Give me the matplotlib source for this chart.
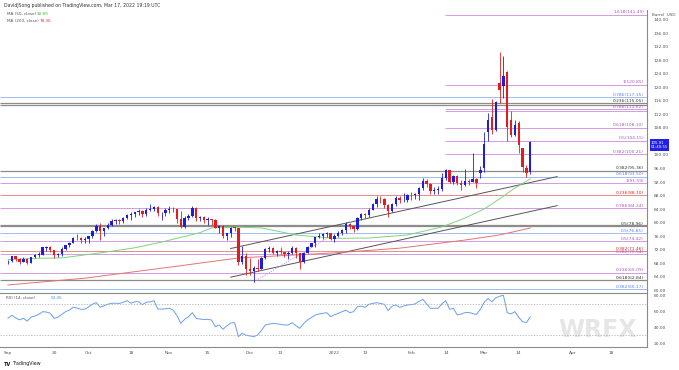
import numpy as np
import pandas as pd
import matplotlib
matplotlib.use('Agg')
import matplotlib.pyplot as plt
import matplotlib.transforms as mtransforms

##################################################################################
# data (daily crude oil candles, Sep 1 2021 - Mar 17 2022)
##################################################################################

opens = [68.5, 68.6, 70.0, 69.3, 68.4, 69.3, 68.1, 69.7, 70.4, 70.5,
         72.5, 72.6, 72.0, 70.3, 70.6, 72.2, 73.3, 74.0, 75.5, 75.3,
         74.8, 75.0, 75.9, 77.6, 78.9, 77.4, 78.3, 79.4, 80.5, 80.6,
         80.4, 81.3, 82.3, 82.4, 83.0, 83.4, 82.5, 83.8, 83.9, 84.7,
         82.7, 82.8, 83.6, 84.1, 83.9, 80.9, 78.8, 81.3, 81.9, 84.2,
         81.3, 81.6, 80.8, 80.9, 80.8, 78.4, 79.0, 76.1, 76.8, 78.5,
         78.4, 68.2, 70.0, 66.2, 65.6, 66.5, 66.3, 69.5, 72.1, 72.4,
         70.9, 71.7, 71.3, 70.7, 70.9, 72.4, 70.9, 68.2, 71.1, 72.8,
         73.8, 75.6, 76.0, 76.6, 77.0, 75.2, 76.1, 77.0, 77.9, 79.5,
         78.9, 78.2, 81.2, 82.6, 82.1, 83.8, 85.4, 87.0, 86.9, 85.1,
         83.3, 85.6, 87.4, 86.6, 86.8, 88.2, 88.1, 88.3, 90.3, 92.3,
         91.3, 89.4, 89.7, 89.9, 93.1, 95.5, 92.1, 93.7, 91.8, 91.1,
         92.4, 92.1, 92.8, 94.6, 96.1, 106.8, 111.2, 107.5, 121.3, 120.4,
         124.5, 110.3, 106.0, 109.5, 102.0, 96.1, 95.0]
highs = [69.0, 70.0, 70.1, 69.6, 69.8, 69.5, 69.9, 70.8, 71.2, 72.8,
         73.1, 72.9, 72.0, 71.0, 72.6, 73.4, 74.1, 75.6, 76.7, 75.8,
         75.6, 76.0, 77.8, 79.5, 79.8, 78.4, 79.8, 81.0, 81.0, 81.1,
         81.6, 82.6, 83.0, 83.2, 83.9, 83.8, 84.2, 85.4, 85.0, 84.9,
         83.0, 84.2, 84.9, 84.5, 84.0, 83.5, 81.8, 82.4, 84.9, 84.5,
         82.0, 81.9, 81.5, 81.1, 80.9, 79.4, 79.2, 77.0, 78.6, 78.8,
         78.5, 73.0, 71.0, 69.5, 67.0, 69.1, 69.9, 72.4, 72.9, 72.8,
         71.9, 72.6, 71.4, 71.6, 72.9, 72.6, 70.9, 71.4, 72.9, 73.9,
         75.7, 76.9, 76.9, 77.1, 77.0, 76.5, 77.6, 78.2, 80.2, 80.0,
         79.0, 81.5, 82.9, 82.8, 84.2, 85.7, 87.9, 87.9, 87.2, 85.6,
         85.9, 88.0, 88.0, 88.8, 88.3, 88.9, 88.6, 90.4, 93.2, 93.0,
         91.6, 90.5, 90.9, 94.7, 95.8, 95.7, 94.0, 94.0, 92.6, 96.0,
         93.0, 100.5, 93.3, 96.6, 106.8, 112.5, 116.6, 116.0, 130.5, 129.4,
         125.0, 113.0, 110.3, 110.0, 102.2, 97.0, 104.0]
lows = [67.6, 68.2, 68.7, 67.6, 68.2, 67.6, 68.0, 69.4, 69.9, 70.3,
        71.7, 71.4, 69.6, 69.8, 70.2, 72.0, 72.7, 73.9, 74.9, 73.8,
        73.9, 74.0, 75.3, 77.3, 74.9, 76.1, 78.2, 78.9, 79.5, 79.6,
        79.8, 81.0, 80.8, 81.6, 82.2, 81.5, 82.0, 83.3, 83.3, 81.8,
        80.6, 82.0, 82.7, 83.1, 80.0, 78.3, 78.5, 80.7, 81.5, 80.3,
        80.3, 79.9, 79.4, 79.4, 78.3, 76.9, 75.3, 74.9, 75.8, 77.5,
        67.4, 67.8, 64.4, 64.4, 62.4, 65.7, 66.1, 69.3, 71.4, 70.6,
        70.0, 70.8, 69.8, 69.3, 70.7, 69.6, 66.1, 68.1, 70.9, 72.7,
        72.6, 75.3, 75.2, 75.7, 74.9, 74.3, 75.7, 76.4, 76.8, 78.1,
        77.3, 77.9, 80.7, 81.3, 81.5, 83.7, 84.7, 85.9, 84.4, 81.7,
        83.0, 84.9, 85.9, 86.0, 86.1, 86.6, 87.1, 86.6, 89.6, 90.6,
        88.4, 88.5, 88.3, 89.3, 92.6, 91.8, 91.3, 91.2, 89.6, 90.9,
        91.2, 92.0, 90.1, 93.2, 95.0, 104.0, 106.3, 107.0, 115.4, 117.0,
        104.0, 105.3, 105.5, 100.6, 95.0, 93.5, 94.5]
closes = [68.6, 70.0, 69.3, 68.4, 69.3, 68.1, 69.7, 70.5, 70.5, 72.6,
          72.6, 72.0, 70.3, 70.6, 72.2, 73.3, 74.0, 75.5, 75.3, 74.8,
          75.0, 75.9, 77.6, 78.9, 77.4, 78.3, 79.4, 80.5, 80.6, 80.4,
          81.3, 82.3, 82.4, 83.0, 83.4, 82.5, 83.8, 83.9, 84.7, 82.7,
          82.8, 83.6, 84.1, 83.9, 80.9, 78.8, 81.3, 81.9, 84.2, 81.3,
          81.6, 80.8, 80.9, 80.8, 78.4, 79.0, 76.1, 76.8, 78.5, 78.4,
          68.2, 70.0, 66.2, 65.6, 66.5, 66.3, 69.5, 72.1, 72.4, 70.9,
          71.7, 71.3, 70.7, 70.9, 72.4, 70.9, 68.2, 71.1, 72.8, 73.8,
          75.6, 76.0, 76.6, 77.0, 75.2, 76.1, 77.0, 77.9, 79.5, 78.9,
          78.2, 81.2, 82.6, 82.1, 83.8, 85.4, 87.0, 86.9, 85.1, 83.3,
          85.6, 87.4, 86.6, 86.8, 88.2, 88.1, 88.3, 90.3, 92.3, 91.3,
          89.4, 89.7, 89.9, 93.1, 95.5, 92.1, 93.7, 91.8, 91.1, 92.4,
          92.1, 92.8, 91.6, 95.7, 103.3, 110.4, 107.5, 115.7, 119.4, 123.4,
          108.4, 106.0, 108.9, 103.0, 96.4, 94.8, 103.8]

rsi = [51.5, 55.5, 52.0, 49.5, 51.5, 48.0, 53.0, 54.5, 56.5, 60.0,
       59.5, 58.0, 51.5, 53.0, 56.5, 60.0, 62.0, 65.6, 64.5, 63.0,
       63.2, 66.0, 69.5, 71.5, 65.6, 67.5, 69.5, 70.6, 70.8, 70.5,
       72.0, 74.0, 70.8, 72.5, 72.7, 68.9, 72.0, 72.5, 74.0, 63.5,
       63.2, 63.6, 64.3, 62.0, 55.0, 45.1, 50.2, 53.5, 58.7, 51.5,
       50.5, 50.0, 50.2, 49.3, 40.8, 43.0, 37.5, 42.0, 45.5, 46.0,
       28.1, 32.4, 30.0, 29.0, 28.2, 30.2, 36.0, 43.0, 44.0, 45.1,
       44.5, 43.8, 43.0, 43.0, 46.0, 42.0, 38.7, 45.0, 49.3, 52.5,
       55.7, 57.0, 57.9, 58.7, 53.6, 56.0, 57.9, 60.0, 62.0, 58.7,
       60.0, 66.4, 67.0, 65.6, 69.4, 70.5, 71.5, 70.5, 69.4, 61.3,
       67.0, 68.5, 65.6, 67.0, 68.5, 69.0, 69.8, 73.0, 75.7, 70.0,
       64.3, 64.3, 64.3, 70.0, 74.0, 63.0, 64.3, 55.7, 57.0, 58.7,
       59.0, 57.5, 56.5, 63.0, 72.0, 76.6, 72.7, 77.5, 79.6, 80.9,
       58.7, 57.0, 60.0, 52.8, 47.3, 46.0, 53.45]

# moving averages, read as vertices of the drawn lines (bar number, value)
ma50_bars = [0, 7, 14, 24, 33, 40, 50, 53, 60, 66, 75, 85, 94, 104, 113, 119, 124, 128, 132, 136]
ma50_vals = [69.0, 69.4, 69.5, 71.0, 72.5, 74.2, 77.0, 78.4, 78.6, 78.4, 76.3, 75.3, 75.4, 76.3,
             78.7, 81.3, 84.0, 87.0, 90.2, 92.89]
ma200_bars = [0, 20, 45, 60, 85, 102, 119, 128, 136]
ma200_vals = [61.5, 63.5, 67.2, 69.5, 71.0, 72.4, 74.8, 76.3, 78.36]

# fibonacci levels: price, label, colour group, drawn from the left edge or only recent
fib_prices = [141.49, 120.85, 117.15, 115.40, 114.80, 113.62, 113.00, 108.10, 104.15, 100.21,
              95.36, 93.50, 91.59, 88.10, 84.24, 79.30, 78.96, 76.85, 74.42, 71.46,
              70.54, 65.09, 62.84, 60.17]
fib_labels = ['1.618(141.49)', '1(120.85)', '0.786(117.15)', '0.236(115.05)', '', '0.786(113.62)', '',
              '0.618(108.10)', '0.5(104.15)', '0.382(100.21)',
              '0.382(95.36)', '0.618(93.50)', '1(91.59)', '0.236(88.10)', '0.786(84.24)', '',
              '0.5(78.96)', '0.5(76.85)', '0.5(74.42)', '0.382(71.46)', '0.382(70.54)',
              '0.236(65.09)', '0.618(62.84)', '0.382(60.17)']
fib_kinds = ['m', 'm', 'b', 'g', 'g', 'm', 'm', 'm', 'm', 'm',
             'g', 'b', 'm', 'r', 'm', 'g', 'g', 'b', 'm', 'r',
             'm', 'm', 'g', 'b']
fib_recent = [True, True, False, False, False, True, True, True, True, True,
              False, False, False, False, False, False, False, False, False, False,
              False, False, False, False]

# ascending channel (date, price)
channel_upper = [('2021-11-23', 72.3), ('2022-03-28', 93.6)]
channel_lower = [('2021-11-23', 63.8), ('2022-03-28', 85.0)]
dotted_support = [('2021-12-02', 62.4), ('2021-12-31', 76.0)]

tick_dates = ['2021-09-01', '2021-09-20', '2021-10-01', '2021-10-18', '2021-11-01', '2021-11-15',
              '2021-12-01', '2021-12-13', '2022-01-03', '2022-01-13', '2022-02-01', '2022-02-14',
              '2022-03-01', '2022-03-14', '2022-04-01', '2022-04-18']
tick_labels = ['Sep', '20', 'Oct', '18', 'Nov', '15', 'Dec', '13', '2022', '13', 'Feb', '14',
               'Mar', '14', 'Apr', '18']

##################################################################################
# plot
##################################################################################

W, H = 679, 370
UP, DOWN = '#1d1de0', '#e31b1b'
kind_color = {'m': '#d39ce0', 'b': '#9fbcf2', 'g': '#8c8c8c', 'r': '#e88a8a'}
kind_text = {'m': '#a555c0', 'b': '#5a7fe0', 'g': '#333333', 'r': '#cc2a2a'}

holidays = pd.to_datetime(['2021-09-06', '2021-11-25', '2021-12-24', '2022-01-17', '2022-02-21', '2022-04-15'])
calendar = pd.bdate_range('2021-09-01', '2022-05-13')
calendar = calendar[~calendar.isin(holidays)]


def bar_of(d):
    return calendar.get_loc(pd.Timestamp(d))


def fx(px):
    return px / W


def fy(py):
    return 1 - py / H


fig = plt.figure(figsize=(W / 100, H / 100), dpi=100)
ax = fig.add_axes([0, fy(292), fx(647), (292 - 10) / H])
ax_rsi = fig.add_axes([0, fy(347), fx(647), (347 - 293) / H], sharex=ax)

x = np.arange(len(closes))
o, h, l, c = map(np.array, (opens, highs, lows, closes))
col = np.where(c >= o, UP, DOWN)

# fib / support lines
recent_start = bar_of('2022-02-14') - 0.2
xmin, xmax = -2.08, 166.4
for p, lab, k, rec in zip(fib_prices, fib_labels, fib_kinds, fib_recent):
    lw = 0.9 if k == 'g' else 0.7
    ax.hlines(p, recent_start if rec else xmin, xmax, color=kind_color[k], lw=lw, zorder=1)
    if lab:
        ax.text(xmax - 0.8, p + 0.15, lab, ha='right', va='bottom', fontsize=3.2,
                color=kind_text[k], zorder=6)

# channel + dotted support
for line in (channel_upper, channel_lower):
    ax.plot([bar_of(line[0][0]), bar_of(line[1][0])], [line[0][1], line[1][1]],
            color='#555555', lw=0.7, zorder=2)
ax.plot([bar_of(dotted_support[0][0]), bar_of(dotted_support[1][0])],
        [dotted_support[0][1], dotted_support[1][1]], color='#c58ad6', lw=0.6, ls=(0, (1.5, 1.5)), zorder=2)

# moving averages
ax.plot(ma50_bars, ma50_vals, color='#7bd67b', lw=0.7, zorder=3)
ax.plot(ma200_bars, ma200_vals, color='#e57373', lw=0.7, zorder=3)

# candles
ax.vlines(x, l, h, color=col, lw=0.6, zorder=4)
body = np.maximum(np.abs(c - o), 0.15)
ax.bar(x, body, bottom=np.minimum(o, c), width=0.62, color=col, zorder=5, linewidth=0)

ax.set_xlim(xmin, xmax)
ax.set_ylim(59.41, 142.96)
ax.yaxis.tick_right()
yt = [v for v in range(60, 141, 4) if v != 104]
ax.set_yticks(yt)
ax.set_yticklabels(['%.2f' % v for v in yt])
ax.tick_params(axis='y', length=0, labelsize=3.2, labelcolor='#555555', pad=5)
ax.tick_params(axis='x', length=0, labelbottom=False)
for s in ('left', 'top', 'bottom'):
    ax.spines[s].set_visible(False)
ax.spines['right'].set_color('#8a8a8a')
ax.spines['right'].set_linewidth(0.8)

# last price box
trans = mtransforms.blended_transform_factory(ax.transAxes, ax.transData)
ax.text(1.006, 103.0, '105.91\n01:40:55', transform=trans, ha='left', va='center', fontsize=2.8,
        color='white', linespacing=1.2, clip_on=False, zorder=10,
        bbox=dict(boxstyle='square,pad=0.35', fc='#2020e8', ec='none'))

# RSI pane
ax_rsi.plot(x, rsi, color='#6a9ef0', lw=0.7)
ax_rsi.axhline(70, color='#aaaaaa', lw=0.5, ls=(0, (2, 2)))
ax_rsi.axhline(30, color='#aaaaaa', lw=0.5, ls=(0, (2, 2)))
ax_rsi.set_ylim(14.9, 83.8)
ax_rsi.yaxis.tick_right()
ax_rsi.set_yticks([20, 40, 60, 80])
ax_rsi.set_yticklabels(['20.00', '40.00', '60.00', '80.00'])
ax_rsi.tick_params(axis='y', length=0, labelsize=3.2, labelcolor='#555555', pad=5)
ax_rsi.set_xticks([bar_of(d) for d in tick_dates])
ax_rsi.set_xticklabels(tick_labels)
ax_rsi.tick_params(axis='x', length=0, labelsize=3.2, labelcolor='#555555', pad=3)
ax_rsi.spines['left'].set_visible(False)
for s in ('top', 'bottom', 'right'):
    ax_rsi.spines[s].set_color('#8a8a8a')
    ax_rsi.spines[s].set_linewidth(0.8)
ax_rsi.text(0.009, 0.9, 'RSI (14, close)', transform=ax_rsi.transAxes, fontsize=3.0, color='#555555', va='center')
ax_rsi.text(0.078, 0.9, '53.45', transform=ax_rsi.transAxes, fontsize=3.0, color='#4a8ff0', va='center')

# watermark (kept inside the plot area)
ax_rsi.text(0.985, 0.32, 'WRFX', transform=ax_rsi.transAxes, fontsize=17, color='#e6e6e6',
            fontweight='bold', ha='right', va='center', zorder=0)

# header, legend, footer
fig.text(fx(4), fy(5), 'DavidJSong published on TradingView.com, Mar 17, 2022 19:19 UTC',
         fontsize=3.3, color='#333333', va='center')
fig.text(fx(7), fy(14), 'MA (50, close)', fontsize=3.0, color='#555555', va='center')
fig.text(fx(37), fy(14), '92.89', fontsize=3.0, color='#2fc02f', va='center')
fig.text(fx(7), fy(21), 'MA (200, close)', fontsize=3.0, color='#555555', va='center')
fig.text(fx(40), fy(21), '78.36', fontsize=3.0, color='#e03030', va='center')
fig.text(fx(652), fy(15), 'Barrel  USD', fontsize=3, color='#555555', va='center')
fig.text(fx(4), fy(364), 'TV', fontsize=3.6, color='#131722', va='center', fontweight='bold')
fig.text(fx(13), fy(364), 'TradingView', fontsize=3.4, color='#131722', va='center')

plt.savefig('out.png', dpi=100)
